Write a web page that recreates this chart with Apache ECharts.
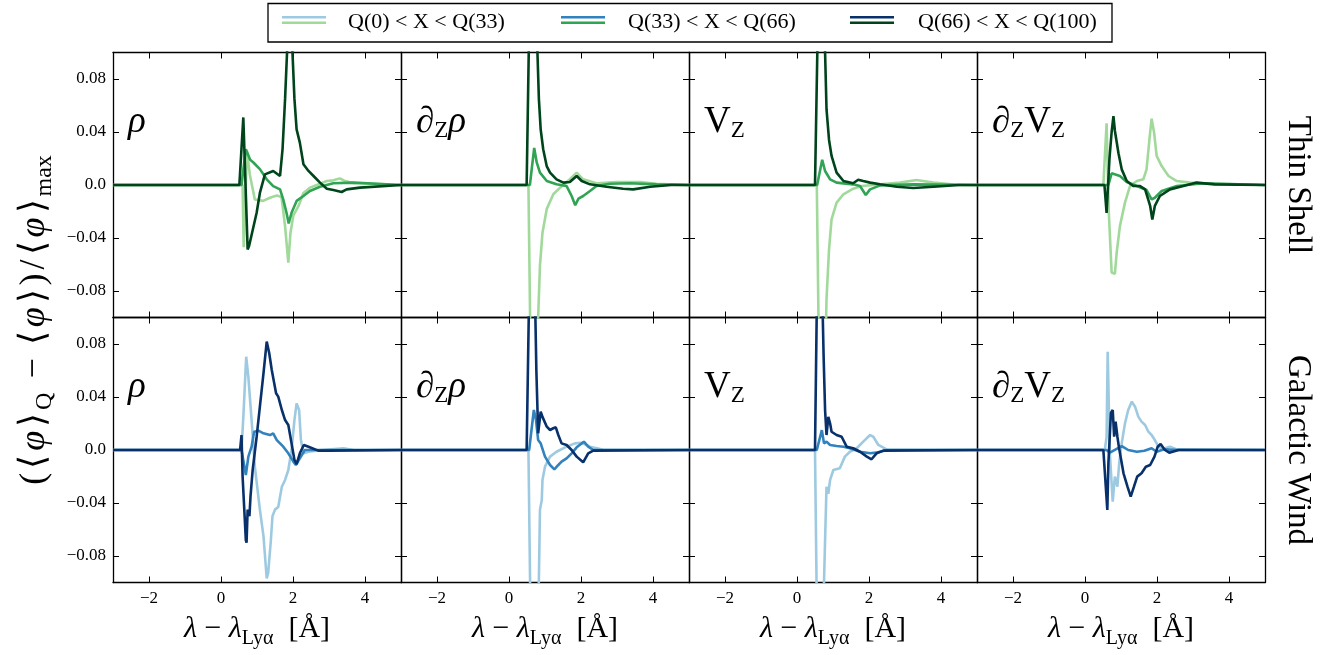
<!DOCTYPE html>
<html><head><meta charset="utf-8">
<script src="https://cdn.jsdelivr.net/npm/echarts@6/dist/echarts.min.js"></script>
<style>html,body{margin:0;padding:0;background:#fff}#c{width:1332px;height:655px}</style>
</head><body><div id="c"></div>
<script>
// ---------- tick labels / categories ----------
const xTicks = [-2, 0, 2, 4];
const yTicks = [-0.08, -0.04, 0, 0.04, 0.08];
const rowNames = ['Thin Shell', 'Galactic Wind'];
const legendNames = ['Q(0) < X < Q(33)', 'Q(33) < X < Q(66)', 'Q(66) < X < Q(100)'];
const panelLabels = ['{i|ρ}', '{i|∂}{s|Z}{i|ρ}', '{r|V}{s|Z}', '{i|∂}{s|Z}{r|V}{s|Z}'];
const greenShades = ['#a1d99b', '#31a354', '#00441b'];
const blueShades = ['#9ecae1', '#3182bd', '#08306b'];

// ---------- Thin Shell ----------
const shellRhoLow = [[-3,0],[0.6,0],[0.63,-0.047],[0.67,-0.046],[0.72,0.026],[0.8,0.008],[0.94,-0.011],[1.17,-0.012],[1.36,-0.0096],[1.55,-0.008],[1.68,-0.009],[1.78,-0.031],[1.87,-0.0586],[1.93,-0.036],[2.01,-0.023],[2.15,-0.016],[2.29,-0.006],[2.47,-0.002],[2.75,0.001],[2.94,0.003],[3.12,0.0035],[3.3,0.005],[3.44,0.003],[3.68,0.0015],[5,0]];
const shellRhoMid = [[-3,0],[0.57,0],[0.69,0.027],[0.81,0.019],[0.9,0.017],[1.08,0.012],[1.27,0.0043],[1.45,-0.0008],[1.64,-0.0033],[1.73,-0.011],[1.82,-0.021],[1.88,-0.029],[1.96,-0.021],[2.1,-0.012],[2.29,-0.0083],[2.47,-0.0045],[2.75,-0.0013],[3.12,0.0013],[3.68,0.0018],[5,0]];
const shellRhoHigh = [[-3,0],[0.51,0],[0.62,0.051],[0.74,-0.0486],[0.78,-0.046],[0.82,-0.045],[0.99,-0.021],[1.08,-0.006],[1.22,0.008],[1.45,0.0106],[1.64,0.0068],[1.71,0.027],[1.78,0.065],[1.85,0.11],[1.9,0.125],[1.97,0.11],[2.04,0.065],[2.1,0.042],[2.19,0.032],[2.29,0.0156],[2.43,0.0106],[2.57,0.0068],[2.75,0.0018],[2.94,-0.0028],[3.12,-0.0038],[3.35,-0.0053],[3.49,-0.0033],[3.86,-0.002],[5,0]];

const shellDRhoLow = [[-3,0],[0.54,0],[0.6,-0.13],[0.7,-0.16],[0.78,-0.12],[0.81,-0.1],[0.86,-0.061],[0.93,-0.036],[1.05,-0.018],[1.23,-0.007],[1.42,-0.002],[1.69,0.0043],[1.88,0.0093],[2.06,0.0043],[2.43,0.0013],[2.99,0.0023],[3.64,0.0023],[4.1,0.001],[5,0]];
const shellDRhoMid = [[-3,0],[0.58,0],[0.7,0.028],[0.77,0.017],[0.86,0.0093],[1.05,0.003],[1.32,0.0005],[1.6,-0.0008],[1.74,-0.0083],[1.84,-0.0153],[1.93,-0.0103],[2.06,-0.0083],[2.25,-0.0045],[2.43,-0.0008],[2.8,0.001],[3.36,0.0013],[4.1,0.0005],[5,0]];
const shellDRhoHigh = [[-3,0],[0.49,0],[0.56,0.12],[0.65,0.17],[0.75,0.13],[0.79,0.1],[0.83,0.065],[0.88,0.042],[0.95,0.027],[1.05,0.014],[1.14,0.0093],[1.32,0.0043],[1.51,0.0018],[1.69,0.0023],[1.88,0.0068],[2.02,0.003],[2.25,0.0005],[2.71,-0.0013],[3.17,-0.0028],[3.45,-0.0033],[3.92,-0.0013],[4.5,0],[5,0]];

const shellVzLow = [[-3,0],[0.55,0],[0.62,-0.15],[0.7,-0.2],[0.78,-0.14],[0.82,-0.086],[0.89,-0.0486],[0.96,-0.026],[1.1,-0.0133],[1.29,-0.007],[1.56,-0.0028],[1.8,-0.0008],[2.31,0.0005],[2.86,0.0018],[3.32,0.0038],[3.79,0.0018],[4.5,0],[5,0]];
const shellVzMid = [[-3,0],[0.56,0],[0.7,0.019],[0.78,0.0106],[0.92,0.0043],[1.1,0.0018],[1.56,0.0005],[1.75,-0.0008],[1.91,-0.0075],[2.03,-0.0033],[2.31,-0.0003],[3.23,0.0005],[5,0]];
const shellVzHigh = [[-3,0],[0.5,0],[0.59,0.14],[0.67,0.18],[0.74,0.13],[0.78,0.1],[0.82,0.057],[0.89,0.034],[0.96,0.022],[1.1,0.0093],[1.29,0.003],[1.56,0.0013],[1.7,0.004],[1.84,0.003],[2.03,0.0018],[2.31,0.0005],[2.77,-0.0013],[3.23,-0.0023],[3.79,-0.0013],[4.5,0],[5,0]];

const shellDVzLow = [[-3,0],[0.51,0],[0.6,0.0465],[0.66,-0.02],[0.74,-0.066],[0.83,-0.067],[0.88,-0.051],[0.97,-0.031],[1.11,-0.0133],[1.25,-0.0008],[1.44,0.003],[1.62,0.0043],[1.71,0.0118],[1.79,0.0345],[1.85,0.05],[1.92,0.0395],[1.99,0.022],[2.13,0.0143],[2.32,0.0068],[2.55,0.003],[2.92,0.0018],[3.5,0.001],[5,0]];
const shellDVzMid = [[-3,0],[0.65,0],[0.74,0.0088],[0.97,0.0068],[1.16,0.0023],[1.44,-0.0008],[1.71,-0.0038],[1.85,-0.0108],[1.94,-0.0096],[2.13,-0.0045],[2.55,-0.0008],[3.29,0.0013],[5,0]];
const shellDVzHigh = [[-3,0],[0.54,0],[0.6,-0.021],[0.64,-0.021],[0.68,0.02],[0.74,0.04],[0.79,0.052],[0.83,0.041],[0.93,0.024],[1.02,0.0118],[1.16,0.003],[1.34,-0.0008],[1.53,-0.0008],[1.67,-0.0033],[1.81,-0.0158],[1.87,-0.026],[1.94,-0.0158],[2.08,-0.0083],[2.36,-0.0033],[2.73,-0.0008],[3.1,0.0018],[3.6,0.0005],[5,0]];

// ---------- Galactic Wind ----------
const windRhoLow = [[-3,0],[0.57,0],[0.63,0.03],[0.7,0.0704],[0.76,0.055],[0.85,0.0226],[0.94,-0.0126],[1.08,-0.045],[1.18,-0.065],[1.27,-0.097],[1.31,-0.093],[1.38,-0.07],[1.43,-0.05],[1.5,-0.045],[1.59,-0.043],[1.69,-0.0277],[1.78,-0.0226],[1.87,-0.0151],[1.96,0],[2.04,0.0226],[2.1,0.0352],[2.17,0.0302],[2.22,0.0075],[2.29,-0.0025],[2.43,-0.0013],[2.8,0],[3.4,0.0013],[3.7,0],[5,0]];
const windRhoMid = [[-3,0],[0.57,0],[0.69,-0.0189],[0.76,-0.005],[0.85,0.0025],[0.92,0.0138],[1.04,0.0146],[1.18,0.0126],[1.36,0.0113],[1.45,0.0126],[1.55,0.0075],[1.73,0.0025],[1.87,-0.0025],[2.01,-0.0088],[2.08,-0.0113],[2.19,-0.0063],[2.33,0],[5,0]];
const windRhoHigh = [[-3,0],[0.53,0],[0.57,0.0113],[0.6,-0.02],[0.69,-0.068],[0.71,-0.07],[0.74,-0.045],[0.79,-0.05],[0.82,-0.035],[0.88,-0.015],[0.99,0.01],[1.08,0.0327],[1.18,0.0579],[1.27,0.0818],[1.34,0.073],[1.41,0.0604],[1.45,0.0591],[1.53,0.0428],[1.59,0.0403],[1.69,0.0302],[1.78,0.0226],[1.87,0.0189],[1.96,0.005],[2.04,-0.0075],[2.1,-0.0106],[2.19,-0.0025],[2.3,0.0038],[2.43,0.0025],[2.7,-0.0005],[3.0,-0.0005],[5,0]];

const windDRhoLow = [[-3,0],[0.54,0],[0.6,-0.13],[0.7,-0.17],[0.8,-0.13],[0.83,-0.098],[0.86,-0.045],[0.91,-0.038],[0.93,-0.0226],[1.0,-0.0126],[1.14,-0.005],[1.32,-0.0013],[1.6,0.0025],[1.83,0.005],[2.02,0.0055],[2.25,0.0025],[2.6,0.0003],[5,0]];
const windDRhoMid = [[-3,0],[0.56,0],[0.69,0.0302],[0.75,0.0226],[0.81,0.0075],[0.88,0.005],[1.0,-0.005],[1.14,-0.0113],[1.26,-0.0146],[1.37,-0.0113],[1.46,-0.0088],[1.6,-0.0063],[1.74,-0.0025],[1.88,0.002],[2.08,0.0063],[2.2,0.0025],[2.34,0],[5,0]];
const windDRhoHigh = [[-3,0],[0.49,0],[0.56,0.12],[0.64,0.16],[0.72,0.12],[0.76,0.06],[0.81,0.0126],[0.88,0.029],[0.93,0.025],[1.05,0.0176],[1.14,0.0151],[1.23,0.0164],[1.3,0.0171],[1.37,0.0113],[1.46,0.005],[1.6,0.0038],[1.74,0],[1.88,-0.005],[2.06,-0.0093],[2.2,-0.0025],[2.34,-0.0005],[5,0]];

const windVzLow = [[-3,0],[0.5,0],[0.56,-0.14],[0.65,-0.19],[0.72,-0.13],[0.75,-0.1],[0.78,-0.068],[0.82,-0.0277],[0.87,-0.033],[0.92,-0.0226],[1.01,-0.0151],[1.19,-0.0138],[1.33,-0.005],[1.47,-0.0013],[1.66,0.0013],[1.84,0.0063],[2.03,0.0113],[2.12,0.01],[2.26,0.0038],[2.5,0.0003],[5,0]];
const windVzMid = [[-3,0],[0.55,0],[0.69,0.015],[0.75,0.005],[0.82,0.0063],[0.92,0.0038],[1.1,0.003],[1.29,0.0025],[1.47,0.0013],[1.75,-0.0013],[2.03,-0.0025],[2.2,-0.002],[2.5,0],[5,0]];
const windVzHigh = [[-3,0],[0.5,0],[0.56,0.13],[0.64,0.17],[0.7,0.12],[0.74,0.07],[0.78,0.03],[0.82,0.0113],[0.87,0.025],[0.92,0.02],[0.96,0.0138],[1.1,0.0113],[1.24,0.01],[1.38,0.0025],[1.56,0.0013],[1.75,-0.0013],[1.94,-0.005],[2.07,-0.007],[2.21,-0.0025],[2.4,-0.0005],[5,0]];

const windDVzLow = [[-3,0],[0.55,0],[0.6,0.01],[0.63,0.0742],[0.69,-0.0025],[0.77,-0.039],[0.83,-0.02],[0.9,-0.0277],[0.95,-0.01],[1.02,0.005],[1.11,0.02],[1.2,0.0302],[1.3,0.0365],[1.39,0.0327],[1.48,0.0252],[1.57,0.0214],[1.67,0.0189],[1.76,0.0138],[1.85,0.0113],[1.94,0.0075],[2.04,0.0025],[2.18,0.001],[2.36,0.0025],[2.55,0.0005],[5,0]];
const windDVzMid = [[-3,0],[0.6,0],[0.69,-0.002],[1.02,0.003],[1.2,0],[1.44,-0.0013],[1.65,-0.0005],[1.85,0.0013],[1.99,-0.0013],[2.2,0.0005],[2.6,0],[5,0]];
const windDVzHigh = [[-3,0],[0.51,0],[0.62,-0.0453],[0.65,-0.01],[0.72,0.028],[0.77,0.0302],[0.81,0.01],[0.85,0.0214],[0.9,0.01],[0.94,0.0025],[1.07,-0.0176],[1.18,-0.0277],[1.27,-0.0352],[1.36,-0.0277],[1.45,-0.0201],[1.57,-0.0176],[1.69,-0.0126],[1.81,-0.0113],[1.93,-0.005],[2.02,0.0025],[2.1,0.0045],[2.22,0],[2.34,-0.002],[2.6,0],[5,0]];

const panelData = [
  [shellRhoLow, shellRhoMid, shellRhoHigh],
  [shellDRhoLow, shellDRhoMid, shellDRhoHigh],
  [shellVzLow, shellVzMid, shellVzHigh],
  [shellDVzLow, shellDVzMid, shellDVzHigh],
  [windRhoLow, windRhoMid, windRhoHigh],
  [windDRhoLow, windDRhoMid, windDRhoHigh],
  [windVzLow, windVzMid, windVzHigh],
  [windDVzLow, windDVzMid, windDVzHigh]
];

// ---------- layout ----------
const FONT = "Liberation Serif";
const GL = 113, GW = 288, GT = 52.5, GH = 265;

const grids = [], xAxes = [], yAxes = [], series = [], titles = [];
// labels are generated from the regular ticks (interval 1 / 0.02) and only the
// values listed in xTicks / yTicks are written
const isXTick = v => xTicks.some(t => Math.abs(t - v) < 1e-6);
const isYTick = v => yTicks.some(t => Math.abs(t - v) < 1e-6);
const fmtX = v => isXTick(v) ? (v < 0 ? '\u2212' + Math.abs(Math.round(v)) : String(Math.round(v))) : '';
const fmtY = v => {
  if (!isYTick(v)) return '';
  const w = Math.round(v * 100) / 100;
  return w === 0 ? '0.0' : (w < 0 ? '\u2212' : '') + Math.abs(w).toFixed(2);
};
const axisLine = { show: true, onZero: false, lineStyle: { color: '#000', width: 1.3 } };
const labelRich = {
  i: { fontFamily: FONT, fontSize: 37, fontStyle: 'italic', fontWeight: 'normal', lineHeight: 40, color: '#000' },
  r: { fontFamily: FONT, fontSize: 37, fontWeight: 'normal', lineHeight: 40, color: '#000' },
  s: { fontFamily: FONT, fontSize: 23, fontWeight: 'normal', lineHeight: 20, verticalAlign: 'bottom', color: '#000' }
};
const nameRich = {
  i: { fontFamily: FONT, fontSize: 30, fontStyle: 'italic', fontWeight: 'normal', lineHeight: 38, color: '#000' },
  r: { fontFamily: FONT, fontSize: 30, fontWeight: 'normal', lineHeight: 38, color: '#000' },
  s: { fontFamily: FONT, fontSize: 20, fontWeight: 'normal', lineHeight: 18, verticalAlign: 'bottom', color: '#000' }
};

for (let k = 0; k < 8; k++) {
  const r = Math.floor(k / 4), c = k % 4;
  const left = GL + GW * c, top = GT + GH * r;
  grids.push({ left: left, top: top, width: GW, height: GH, containLabel: false });
  const tick = { show: true, inside: true, length: 6, lineStyle: { color: '#000', width: 1 } };
  xAxes.push({
    gridIndex: k, type: 'value', min: -3, max: 5, interval: 1, position: 'bottom',
    axisLine: axisLine, axisTick: Object.assign({ customValues: xTicks }, tick),
    axisLabel: { show: r === 1, formatter: fmtX, showMinLabel: false, showMaxLabel: false,
      fontFamily: FONT, fontSize: 17, fontWeight: 'normal', color: '#000', margin: 8 },
    splitLine: { show: false },
    name: r === 1 ? '{i|λ}{r| − }{i|λ}{s|Lyα}{r|  [Å]}' : '',
    nameLocation: 'middle', nameGap: 28,
    nameTextStyle: { rich: nameRich }
  });
  xAxes.push({
    gridIndex: k, type: 'value', min: -3, max: 5, position: 'top',
    axisLine: axisLine, axisTick: Object.assign({ customValues: xTicks }, tick),
    axisLabel: { show: false }, splitLine: { show: false }
  });
  yAxes.push({
    gridIndex: k, type: 'value', min: -0.1, max: 0.1, interval: 0.02, position: 'left',
    axisLine: axisLine, axisTick: Object.assign({ customValues: yTicks }, tick),
    axisLabel: { show: c === 0, formatter: fmtY, showMinLabel: false, showMaxLabel: false,
      fontFamily: FONT, fontSize: 17, fontWeight: 'normal', color: '#000', margin: 7 },
    splitLine: { show: false }
  });
  yAxes.push({
    gridIndex: k, type: 'value', min: -0.1, max: 0.1, position: 'right',
    axisLine: axisLine, axisTick: Object.assign({ customValues: yTicks }, tick),
    axisLabel: { show: false }, splitLine: { show: false }
  });
  const shades = r === 0 ? greenShades : blueShades;
  panelData[k].forEach((d, j) => {
    series.push({
      type: 'line', name: legendNames[j], xAxisIndex: 2 * k, yAxisIndex: 2 * k,
      data: d, showSymbol: false, symbol: 'none', clip: true, animation: false,
      lineStyle: { color: shades[j], width: 2.6 }, z: 2 + j
    });
  });
  titles.push({
    text: panelLabels[c], left: left + 15, top: top + 50, padding: 0,
    textStyle: { fontWeight: 'normal', rich: labelRich }
  });
}

// ---------- legend & side labels (graphic) ----------
const graphic = [
  { type: 'rect', shape: { x: 268, y: 3.5, width: 844, height: 38.5 }, style: { fill: '#fff', stroke: '#000', lineWidth: 1.3 }, z: 10 }
];
const legX = [282, 561, 850], legTX = [348, 628, 918];
legendNames.forEach((n, j) => {
  graphic.push({ type: 'line', shape: { x1: legX[j], y1: 17.3, x2: legX[j] + 44, y2: 17.3 }, style: { stroke: blueShades[j], lineWidth: 2.5 }, z: 11 });
  graphic.push({ type: 'line', shape: { x1: legX[j], y1: 22.7, x2: legX[j] + 44, y2: 22.7 }, style: { stroke: greenShades[j], lineWidth: 2.5 }, z: 11 });
  graphic.push({ type: 'text', x: legTX[j], y: 22, z: 11,
    style: { text: n, fill: '#000', font: "22px " + FONT, align: 'left', verticalAlign: 'middle', textAlign: 'left', textVerticalAlign: 'middle' } });
});
rowNames.forEach((n, r) => {
  graphic.push({ type: 'text', x: 1298, y: GT + GH * r + GH / 2, rotation: -Math.PI / 2, z: 11,
    style: { text: n, fill: '#000', font: "33px " + FONT, align: 'center', verticalAlign: 'middle', textAlign: 'center', textVerticalAlign: 'middle' } });
});
const yTitleRich = {
  p: { fontFamily: FONT, fontSize: 36, lineHeight: 44, padding: [0, 2, 0, 2], fill: '#000', color: '#000' },
  i: { fontFamily: FONT, fontSize: 36, fontStyle: 'italic', lineHeight: 44, padding: [0, 2, 0, 2], fill: '#000', color: '#000' },
  s: { fontFamily: FONT, fontSize: 24, lineHeight: 22, verticalAlign: 'bottom', padding: [0, 3, 0, 1], fill: '#000', color: '#000' }
};
graphic.push({ type: 'text', x: 35, y: GT + GH + 2, rotation: Math.PI / 2, z: 11,
  style: {
    text: '{p|(}{p|⟨}{i|φ}{p|⟩}{s|Q}{p| − }{p|⟨}{i|φ}{p|⟩}{p|)}{p|/}{p|⟨}{i|φ}{p|⟩}{s|max}',
    align: 'center', verticalAlign: 'middle', textAlign: 'center', textVerticalAlign: 'middle',
    rich: yTitleRich
  } });

const chart = echarts.init(document.getElementById('c'), null, { renderer: 'canvas' });
chart.setOption({
  animation: false,
  backgroundColor: '#fff',
  title: titles,
  grid: grids, xAxis: xAxes, yAxis: yAxes, series: series,
  graphic: graphic
});
</script>
</body></html>
